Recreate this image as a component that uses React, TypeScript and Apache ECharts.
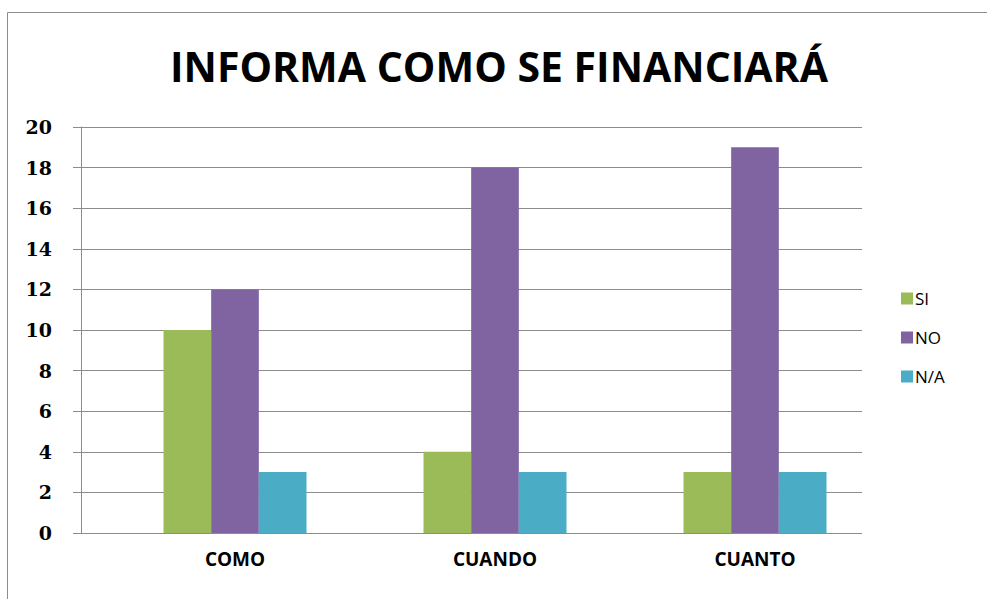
import React, { useEffect, useRef } from "react";
import * as echarts from "echarts";

const titleText = "INFORMA COMO SE FINANCIARÁ";
const categories = ["COMO", "CUANDO", "CUANTO"];
const seriesNames = ["SI", "NO", "N/A"];
const siValues = [10, 4, 3];
const noValues = [12, 18, 19];
const naValues = [3, 3, 3];
const colors = ["#9BBB59", "#8064A2", "#4BACC6"];

export default function App() {
  const ref = useRef<HTMLDivElement>(null);
  useEffect(() => {
    if (!ref.current) return;
    const chart = echarts.init(ref.current, null, { renderer: "svg" });
    const values = [siValues, noValues, naValues];
    chart.setOption({
      animation: false,
      backgroundColor: "#ffffff",
      title: {
        text: titleText,
        left: 494,
        textAlign: "center",
        top: 40,
        textStyle: {
          fontFamily: "Open Sans",
          fontWeight: "bold",
          fontSize: 41,
          color: "#000000",
        },
      },
      graphic: [
        {
          type: "rect",
          shape: { x: 7.5, y: 12.5, width: 1100, height: 800 },
          style: { fill: "none", stroke: "#8c8c8c", lineWidth: 1 },
          z: 0,
        },
      ],
      legend: {
        orient: "vertical",
        left: 896,
        top: 285,
        itemWidth: 12,
        itemHeight: 12,
        itemGap: 22,
        icon: "rect",
        data: seriesNames,
        textStyle: {
          fontFamily: "Open Sans",
          fontSize: 17,
          color: "#000000",
          padding: [0, 0, 0, -3],
        },
      },
      grid: [
        { left: 81, right: 125, top: 127, bottom: 66 },
        { left: 105, right: 102, top: 127, bottom: 66 },
      ],
      xAxis: [
        {
          type: "category",
          gridIndex: 0,
          data: categories,
          axisLine: { show: false },
          axisTick: { show: false },
          axisLabel: { show: false },
        },
        {
          type: "category",
          gridIndex: 1,
          data: categories,
          axisLine: { show: false },
          axisTick: { show: false },
          axisLabel: {
            margin: 16,
            fontFamily: "Open Sans",
            fontWeight: "bold",
            fontSize: 19,
            color: "#000000",
          },
        },
      ],
      yAxis: [
        {
          type: "value",
          gridIndex: 0,
          min: 0,
          max: 20,
          interval: 2,
          axisLine: { show: true, lineStyle: { color: "#8c8c8c", width: 1 } },
          axisTick: { show: true, length: 8, lineStyle: { color: "#8c8c8c" } },
          splitLine: { show: true, lineStyle: { color: "#8c8c8c", width: 1 } },
          axisLabel: {
            margin: 29,
            fontFamily: "DejaVu Serif",
            fontWeight: "bold",
            fontSize: 19,
            color: "#000000",
          },
        },
        {
          type: "value",
          gridIndex: 1,
          min: 0,
          max: 20,
          interval: 2,
          axisLine: { show: false },
          axisTick: { show: false },
          splitLine: { show: false },
          axisLabel: { show: false },
        },
      ],
      series: seriesNames.map((name, i) => ({
        name,
        type: "bar",
        xAxisIndex: 1,
        yAxisIndex: 1,
        data: values[i],
        barGap: "0%",
        barCategoryGap: "45%",
        itemStyle: { color: colors[i] },
        z: 3,
      })),
    });
    return () => chart.dispose();
  }, []);
  return (
    <div
      ref={ref}
      style={{ position: "fixed", left: 0, top: 0, width: 987, height: 599 }}
    />
  );
}
